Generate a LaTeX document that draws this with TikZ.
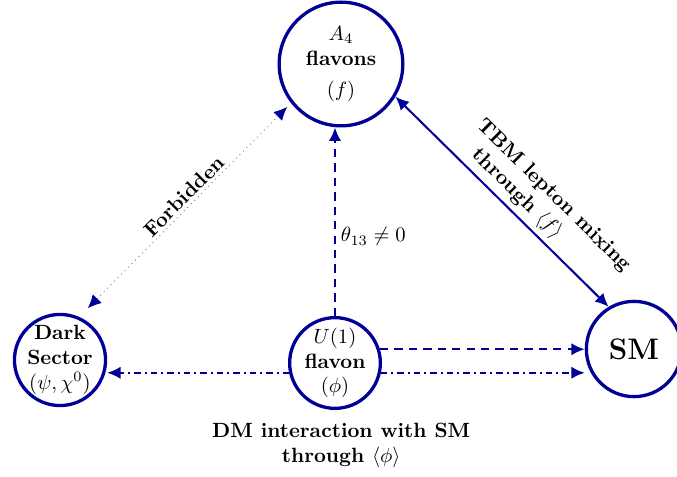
\documentclass[tikz,border=0pt]{standalone}
\usepackage{amssymb}
\usetikzlibrary{positioning,calc}
\usetikzlibrary{arrows.meta}
\definecolor{flavblue}{RGB}{0,0,150}
\tikzset{
   field/.style={circle,draw=flavblue,line width=1.6pt,minimum size=#1,inner sep=-10pt,align=center},
   link/.style={draw=flavblue,line width=1pt,>={Latex[length=6.5pt,width=6pt]}},
   tag/.style={font=\bfseries,align=center,text=black},
}

\begin{document}
\begin{tikzpicture}[x=0.485pt,y=0.485pt]
      \useasboundingbox (0,0) rectangle (677,-477);
      \node[field=60pt] (a4) at (341,-64) {$A_4$\\ \textbf{flavons}\\[3pt] $(f)$};
      \node[field=44.2pt] (dark) at (60,-360) {\textbf{Dark}\\ \textbf{Sector}\\ $(\psi,\chi^0)$};
      \node[field=44pt] (uone) at (335,-363) {$U(1)$\\ \textbf{flavon}\\ $(\phi)$};
      \node[field=46.2pt,font=\Large\bfseries] (sm) at (634,-349) {SM};
      \node[tag,below=3pt of uone,xshift=3pt] (dmtext) {DM interaction with SM\\ through $\langle\phi\rangle$};

      \draw[link,<->,line width=0.4pt,dotted,draw=flavblue!65,shorten <=5.9pt,shorten >=2.6pt,
         >={Latex[length=6.5pt,width=6pt,color=flavblue]}]
         (dark.66) -- node[tag,sloped,above=-2pt,pos=0.53] {Forbidden} (a4.218);
      \draw[link,->,dash pattern=on 4pt off 3pt] (uone.north) -- node[pos=0.42,right=-1pt] {$\theta_{13}\neq 0$} (uone.north |- a4.south);
      \draw[link,<->] (a4.-31) -- node[tag,sloped,above=-1pt,pos=0.61,align=left] {TBM lepton mixing\\ \hspace*{8pt}through $\langle f\rangle$} (sm.121);
      \draw[link,->,dash pattern=on 4pt off 3pt] (uone.17) -- (uone.17 -| sm.west);
      \draw[link,->,dash dot] (uone.-12) -- (uone.-12 -| sm.west);
      \draw[link,->,dash dot] (uone.192) -- (uone.192 -| dark.east);
   \end{tikzpicture}
\end{document}
